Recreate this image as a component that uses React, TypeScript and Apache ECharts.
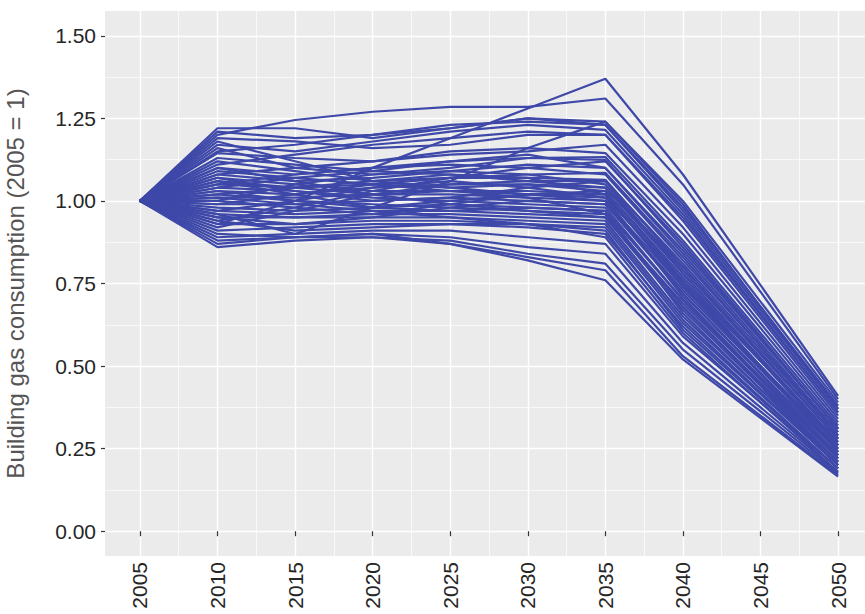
import React, { useEffect, useRef } from "react";
import * as echarts from "echarts";

const years = [2005, 2010, 2015, 2020, 2025, 2030, 2035, 2040, 2050];
const xTickYears = [2005, 2010, 2015, 2020, 2025, 2030, 2035, 2040, 2045, 2050];
const xMinorYears = [2007.5, 2012.5, 2017.5, 2022.5, 2027.5, 2032.5, 2037.5, 2042.5, 2047.5];
const yTicks = [0, 0.25, 0.5, 0.75, 1.0, 1.25, 1.5];
const yMinorTicks = [0.125, 0.375, 0.625, 0.875, 1.125, 1.375];
const yTitle = "Building gas consumption (2005 = 1)";

// One array per scenario: values at 2005, 2010, 2015, 2020, 2025, 2030, 2035, 2040, 2050
const s01 = [1, 0.93, 1.0, 1.1, 1.19, 1.28, 1.37, 1.08, 0.41];
const s02 = [1, 1.2, 1.245, 1.27, 1.285, 1.285, 1.31, 1.05, 0.4];
const s03 = [1, 1.22, 1.22, 1.19, 1.22, 1.25, 1.24, 1.0, 0.39];
const s04 = [1, 1.21, 1.19, 1.2, 1.23, 1.24, 1.23, 0.98, 0.38];
const s05 = [1, 1.17, 1.15, 1.18, 1.21, 1.23, 1.215, 0.96, 0.36];
const s06 = [1, 1.19, 1.18, 1.16, 1.17, 1.2, 1.2, 0.94, 0.35];
const s07 = [1, 0.96, 0.9, 0.98, 1.06, 1.16, 1.24, 0.99, 0.37];
const s08 = [1, 1.145, 1.13, 1.12, 1.15, 1.16, 1.145, 0.9, 0.33];
const s09 = [1, 1.16, 1.1, 1.08, 1.1, 1.13, 1.133, 0.88, 0.32];
const s10 = [1, 1.1, 1.08, 1.1, 1.12, 1.13, 1.124, 0.86, 0.31];
const s11 = [1, 1.08, 1.06, 1.07, 1.09, 1.11, 1.1, 0.84, 0.3];
const s12 = [1, 1.12, 1.09, 1.06, 1.07, 1.08, 1.085, 0.83, 0.29];
const s13 = [1, 1.05, 1.04, 1.05, 1.07, 1.07, 1.064, 0.8, 0.28];
const s14 = [1, 1.09, 1.07, 1.05, 1.04, 1.05, 1.04, 0.78, 0.27];
const s15 = [1, 1.03, 1.02, 1.04, 1.05, 1.05, 1.03, 0.77, 0.26];
const s16 = [1, 1.07, 1.05, 1.03, 1.03, 1.03, 1.02, 0.75, 0.25];
const s17 = [1, 1.01, 1.01, 1.02, 1.03, 1.02, 1.01, 0.76, 0.27];
const s18 = [1, 1.06, 1.04, 1.02, 1.02, 1.01, 1.0, 0.72, 0.24];
const s19 = [1, 0.99, 0.99, 1.0, 1.01, 1.0, 0.99, 0.73, 0.25];
const s20 = [1, 1.04, 1.03, 1.01, 1.0, 0.99, 0.98, 0.7, 0.23];
const s21 = [1, 0.98, 0.97, 0.98, 0.99, 0.98, 0.97, 0.7, 0.22];
const s22 = [1, 1.02, 1.0, 0.99, 0.98, 0.97, 0.96, 0.68, 0.22];
const s23 = [1, 0.97, 0.96, 0.97, 0.97, 0.96, 0.95, 0.67, 0.21];
const s24 = [1, 1.0, 0.98, 0.96, 0.96, 0.95, 0.94, 0.65, 0.21];
const s25 = [1, 0.95, 0.95, 0.95, 0.95, 0.94, 0.93, 0.64, 0.2];
const s26 = [1, 0.93, 0.93, 0.94, 0.94, 0.93, 0.92, 0.63, 0.2];
const s27 = [1, 0.91, 0.92, 0.93, 0.93, 0.92, 0.9, 0.62, 0.19];
const s28 = [1, 0.89, 0.9, 0.91, 0.91, 0.89, 0.87, 0.59, 0.19];
const s29 = [1, 0.87, 0.89, 0.9, 0.89, 0.86, 0.84, 0.57, 0.18];
const s30 = [1, 0.86, 0.88, 0.89, 0.88, 0.84, 0.81, 0.55, 0.175];
const s31 = [1, 0.88, 0.89, 0.89, 0.87, 0.83, 0.79, 0.53, 0.17];
const s32 = [1, 0.9, 0.89, 0.9, 0.87, 0.82, 0.76, 0.52, 0.165];
const s33 = [1, 1.1, 1.06, 1.02, 0.99, 0.97, 0.95, 0.69, 0.23];
const s34 = [1, 0.94, 0.98, 1.03, 1.07, 1.1, 1.12, 0.87, 0.31];
const s35 = [1, 1.18, 1.12, 1.06, 1.04, 1.02, 1.0, 0.74, 0.26];
const s36 = [1, 0.92, 0.97, 1.02, 1.05, 1.06, 1.06, 0.81, 0.29];
const s37 = [1, 1.05, 1.08, 1.1, 1.11, 1.1, 1.08, 0.82, 0.3];
const s38 = [1, 1.0, 1.05, 1.08, 1.09, 1.08, 1.05, 0.79, 0.28];
const s39 = [1, 1.03, 1.0, 0.98, 1.0, 1.02, 1.03, 0.76, 0.24];
const s40 = [1, 0.97, 1.0, 1.04, 1.06, 1.04, 1.01, 0.71, 0.22];
const s41 = [1, 1.08, 1.1, 1.12, 1.14, 1.15, 1.17, 0.92, 0.34];
const s42 = [1, 1.13, 1.11, 1.09, 1.08, 1.06, 1.04, 0.8, 0.28];
const s43 = [1, 1.02, 1.04, 1.06, 1.08, 1.07, 1.02, 0.74, 0.25];
const s44 = [1, 0.95, 0.93, 0.95, 0.98, 1.0, 0.99, 0.72, 0.23];
const s45 = [1, 1.06, 1.02, 0.98, 0.97, 0.98, 0.97, 0.66, 0.2];
const s46 = [1, 0.99, 1.02, 1.05, 1.03, 1.01, 0.96, 0.68, 0.21];
const s47 = [1, 1.04, 1.07, 1.09, 1.12, 1.14, 1.1, 0.85, 0.31];
const s48 = [1, 1.11, 1.14, 1.17, 1.19, 1.21, 1.2, 0.95, 0.36];
const s49 = [1, 0.94, 0.91, 0.92, 0.93, 0.93, 0.91, 0.61, 0.19];
const s50 = [1, 1.01, 0.99, 0.97, 0.95, 0.93, 0.89, 0.6, 0.18];
const s51 = [1, 1.15, 1.17, 1.2, 1.22, 1.25, 1.23, 0.97, 0.37];
const s52 = [1, 1.07, 1.03, 1.0, 1.01, 1.04, 1.06, 0.78, 0.26];
const s53 = [1, 0.96, 0.95, 0.96, 0.99, 1.02, 1.02, 0.75, 0.24];

const scenarios = [
  s01, s02, s03, s04, s05, s06, s07, s08, s09, s10, s11, s12, s13, s14, s15, s16, s17, s18,
  s19, s20, s21, s22, s23, s24, s25, s26, s27, s28, s29, s30, s31, s32, s33, s34, s35, s36,
  s37, s38, s39, s40, s41, s42, s43, s44, s45, s46, s47, s48, s49, s50, s51, s52, s53,
];

const FONT = "'Liberation Sans', Arial, Helvetica, sans-serif";
const LINE_COLOR = "#3E48A8";

export default function App() {
  const ref = useRef<HTMLDivElement>(null);

  useEffect(() => {
    if (!ref.current) return;
    const chart = echarts.init(ref.current, undefined, { renderer: "svg" });

    const xMin = 2002.75;
    const xMax = 2052.25;
    const yMin = -0.075;
    const yMax = 1.575;

    const option: any = {
      animation: false,
      backgroundColor: "#ffffff",
      grid: {
        left: 105,
        top: 11,
        width: 768,
        height: 545,
        show: true,
        backgroundColor: "#EBEBEB",
        borderWidth: 0,
        outerBoundsMode: "none",
        containLabel: false,
      },
      xAxis: [
        {
          type: "value",
          min: xMin,
          max: xMax,
          axisLine: { show: false },
          axisTick: {
            show: true,
            length: 5,
            customValues: xTickYears,
            lineStyle: { color: "#333333", width: 1.2 },
          },
          axisLabel: {
            customValues: xTickYears,
            rotate: 90,
            margin: 6,
            fontSize: 21,
            fontFamily: FONT,
            color: "#262626",
            formatter: (v: number) => String(Math.round(v)),
          },
          splitLine: { show: true, lineStyle: { color: "#ffffff", width: 1.4 } },
        },
        {
          type: "value",
          min: xMin,
          max: xMax,
          axisLine: { show: false },
          axisTick: { show: false, customValues: xMinorYears },
          axisLabel: { show: false, customValues: xMinorYears },
          splitLine: { show: true, lineStyle: { color: "#ffffff", width: 0.7 } },
        },
      ],
      yAxis: [
        {
          type: "value",
          min: yMin,
          max: yMax,
          name: yTitle,
          nameLocation: "middle",
          nameGap: 78,
          nameTextStyle: { fontSize: 24, fontFamily: FONT, color: "#555555" },
          axisLine: { show: false },
          axisTick: {
            show: true,
            length: 4,
            customValues: yTicks,
            lineStyle: { color: "#333333", width: 1.2 },
          },
          axisLabel: {
            customValues: yTicks,
            margin: 9,
            fontSize: 21,
            fontFamily: FONT,
            color: "#262626",
            formatter: (v: number) => v.toFixed(2),
          },
          splitLine: { show: true, lineStyle: { color: "#ffffff", width: 1.4 } },
        },
        {
          type: "value",
          min: yMin,
          max: yMax,
          position: "left",
          axisLine: { show: false },
          axisTick: { show: false, customValues: yMinorTicks },
          axisLabel: { show: false, customValues: yMinorTicks },
          splitLine: { show: true, lineStyle: { color: "#ffffff", width: 0.7 } },
        },
      ],
      series: scenarios.map((vals, i) => ({
        name: "s" + (i + 1),
        type: "line",
        xAxisIndex: 0,
        yAxisIndex: 0,
        showSymbol: false,
        silent: true,
        data: years.map((y, j) => [y, vals[j]]),
        lineStyle: { color: LINE_COLOR, width: 2.2 },
        itemStyle: { color: LINE_COLOR },
      })),
    };

    chart.setOption(option);
    return () => {
      chart.dispose();
    };
  }, []);

  return (
    <div
      ref={ref}
      style={{ position: "absolute", left: 0, top: 0, width: 865, height: 614 }}
    />
  );
}
